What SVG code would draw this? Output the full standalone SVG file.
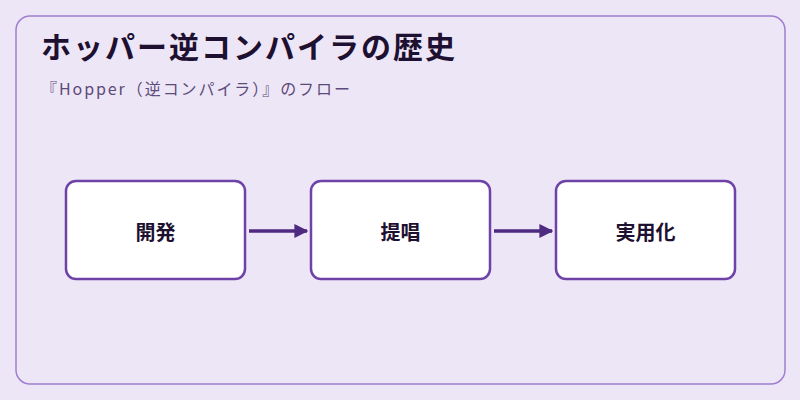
<svg xmlns="http://www.w3.org/2000/svg" width="800" height="400" viewBox="0 0 800 400">
<defs>
<style>
.node rect{fill:#fff;stroke:#6f42a8;stroke-width:2.5}
.node text{font-family:"Noto Sans CJK JP","Noto Sans",sans-serif;font-size:20px;font-weight:bold;fill:#1e1030;text-anchor:middle;dominant-baseline:central}
.conn line{stroke:#4e2a80;stroke-width:3.5}
</style>
<marker id="ah" viewBox="0 0 10 10" refX="9" refY="5" markerWidth="4" markerHeight="4" orient="auto"><path d="M0,0L10,5L0,10z" fill="#4e2a80"/></marker>
</defs>
<rect width="800" height="400" fill="#ede6f6"/>
<rect x="16" y="16" width="769" height="368" rx="14" fill="#ede6f6" stroke="#a07fd0" stroke-width="1.5"/>
<text x="41" y="58" font-family="'Noto Sans CJK JP',sans-serif" font-size="30" font-weight="bold" fill="#1e1030" textLength="414" lengthAdjust="spacing">ホッパー逆コンパイラの歴史</text>
<text x="41" y="95" font-family="'Noto Sans CJK JP',sans-serif" font-size="16" fill="#5c4a7a" textLength="309" lengthAdjust="spacing">『Hopper（逆コンパイラ）』のフロー</text>
<g class="conn">
<line x1="249" y1="231" x2="307" y2="231" marker-end="url(#ah)"/>
<line x1="494" y1="231" x2="552" y2="231" marker-end="url(#ah)"/>
</g>
<g id="n1" class="node"><rect x="66" y="181" width="179" height="98" rx="10"/><text x="155.5" y="231">開発</text></g>
<g id="n2" class="node"><rect x="311" y="181" width="179" height="98" rx="10"/><text x="400.5" y="231">提唱</text></g>
<g id="n3" class="node"><rect x="556" y="181" width="179" height="98" rx="10"/><text x="645.5" y="231">実用化</text></g>
</svg>
